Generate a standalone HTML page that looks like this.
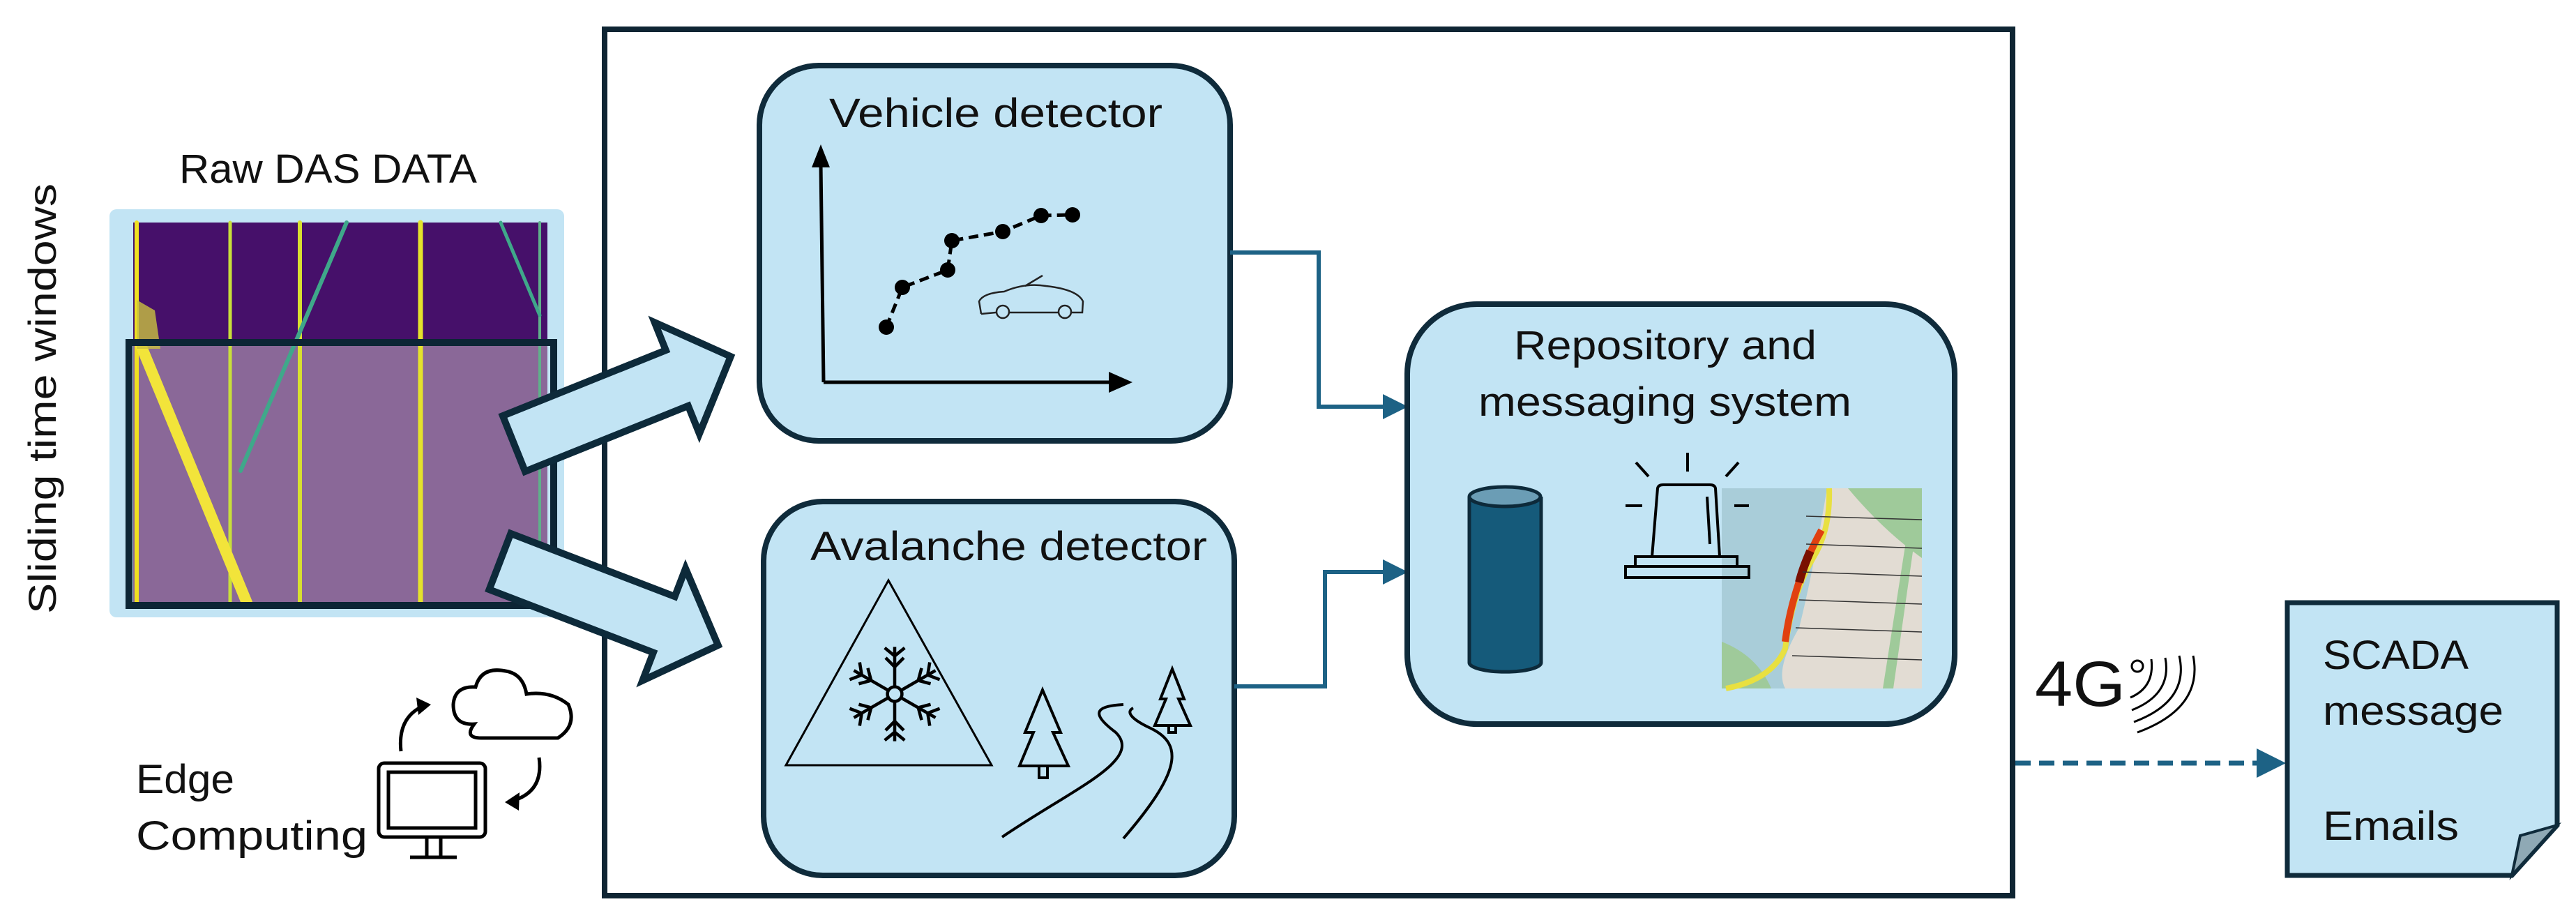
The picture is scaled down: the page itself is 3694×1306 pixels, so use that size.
<!DOCTYPE html>
<html><head><meta charset="utf-8"><style>
html,body{margin:0;padding:0;background:#fff;}
svg{display:block;}
text{font-family:"Liberation Sans Narrow","Liberation Sans",sans-serif;fill:#111;}
</style></head><body>
<svg width="3694" height="1306" viewBox="0 0 3694 1306" xmlns="http://www.w3.org/2000/svg">
<defs>
<marker id="ah" markerWidth="6" markerHeight="6" refX="2" refY="3" orient="auto" markerUnits="strokeWidth"><path d="M0,0 L6,3 L0,6 z" fill="#1d6285"/></marker>
</defs>

<!-- Sliding time windows -->
<text transform="translate(80,880) rotate(-90)" font-size="56" textLength="617" lengthAdjust="spacingAndGlyphs" style="font-family:'Liberation Sans',sans-serif">Sliding time windows</text>
<text x="257" y="262" font-size="58" textLength="427" lengthAdjust="spacingAndGlyphs">Raw DAS DATA</text>

<!-- DAS image -->
<rect x="157" y="300" width="652" height="585" rx="10" fill="#c2e4f4"/>
<rect x="191" y="319" width="594" height="545" fill="#46106a"/>
<rect x="191" y="490" width="594" height="374" fill="#8a6898"/>
<g stroke-linecap="round">
<line x1="196" y1="319" x2="196" y2="864" stroke="#f0e020" stroke-width="6"/>
<line x1="330" y1="319" x2="330" y2="864" stroke="#c8df3a" stroke-width="5"/>
<line x1="430" y1="319" x2="430" y2="864" stroke="#d8e030" stroke-width="6"/>
<line x1="603" y1="319" x2="603" y2="864" stroke="#e4e22c" stroke-width="7"/>
<line x1="774" y1="319" x2="774" y2="864" stroke="#5fb08a" stroke-width="4"/>
<line x1="497" y1="319" x2="345" y2="675" stroke="#3fa88a" stroke-width="6"/>
<line x1="718" y1="319" x2="774" y2="452" stroke="#3fa88a" stroke-width="5"/>
<line x1="202" y1="495" x2="354" y2="864" stroke="#f2e43a" stroke-width="16"/>
<path d="M196,430 L222,445 L230,500 L196,500z" fill="#c9c040" opacity="0.8"/>
</g>
<rect x="185" y="491" width="609" height="377" fill="none" stroke="#0c2535" stroke-width="10"/>

<!-- outer box -->
<rect x="867" y="42" width="2019" height="1242" fill="none" stroke="#0f2533" stroke-width="8"/>

<!-- block arrows -->
<g transform="translate(737,636) rotate(-21.9)"><polygon points="0,-43 252,-43 252,-86 335,0 252,86 252,43 0,43" fill="#c2e4f4" stroke="#0d2a3a" stroke-width="10"/></g>
<g transform="translate(717,805) rotate(21)"><polygon points="0,-43 252,-43 252,-86 335,0 252,86 252,43 0,43" fill="#c2e4f4" stroke="#0d2a3a" stroke-width="10"/></g>

<!-- Vehicle detector -->
<rect x="1089" y="94" width="675" height="538" rx="85" fill="#c2e4f4" stroke="#0f2b3b" stroke-width="8"/>
<text x="1189" y="182" font-size="58" textLength="478" lengthAdjust="spacingAndGlyphs">Vehicle detector</text>
<path d="M1181,548 L1177,235" stroke="#000" stroke-width="5" fill="none"/>
<path d="M1164,240 L1177,207 L1190,240z" fill="#000"/>
<path d="M1181,548 L1595,548" stroke="#000" stroke-width="5" fill="none"/>
<path d="M1590,533 L1624,548 L1590,563z" fill="#000"/>
<polyline points="1271,469 1294,412 1359,387 1365,345 1438,332 1493,309 1538,308" fill="none" stroke="#000" stroke-width="5" stroke-dasharray="14,8"/>
<g fill="#000"><circle cx="1271" cy="469" r="11"/><circle cx="1294" cy="412" r="11"/><circle cx="1359" cy="387" r="11"/><circle cx="1365" cy="345" r="11"/><circle cx="1438" cy="332" r="11"/><circle cx="1493" cy="309" r="11"/><circle cx="1538" cy="308" r="11"/></g>
<g fill="none" stroke="#222" stroke-width="2.5">
<path d="M1407,450 L1404,432 Q1410,420 1440,418 Q1470,405 1500,410 Q1545,415 1553,432 L1552,448 L1537,448 M1517,448 L1448,448 M1428,448 L1407,450"/>
<circle cx="1438" cy="447" r="9"/><circle cx="1527" cy="447" r="9"/>
<path d="M1470,410 L1495,395"/>
</g>

<!-- Avalanche detector -->
<rect x="1095" y="719" width="675" height="536" rx="85" fill="#c2e4f4" stroke="#0f2b3b" stroke-width="8"/>
<text x="1162" y="803" font-size="58" textLength="569" lengthAdjust="spacingAndGlyphs">Avalanche detector</text>
<polygon points="1274,832 1127,1097 1422,1097" fill="none" stroke="#000" stroke-width="3"/>
<g transform="translate(1283,995) scale(1.3)" stroke="#000" stroke-width="3.5" fill="none">
<circle r="8"/>
<g id="arm"><line x1="0" y1="-9" x2="0" y2="-52"/><polyline points="-10,-40 0,-30 10,-40"/><polyline points="-11,-51 0,-42 11,-51"/></g>
<use href="#arm" transform="rotate(60)"/><use href="#arm" transform="rotate(120)"/><use href="#arm" transform="rotate(180)"/><use href="#arm" transform="rotate(240)"/><use href="#arm" transform="rotate(300)"/>
</g>
<g fill="none" stroke="#000" stroke-width="4">
<path d="M1495,989 L1470,1050 L1482,1050 L1462,1098 L1532,1098 L1510,1050 L1521,1050 Z M1490,1098 V1115 H1502 V1098"/>
<path d="M1681,959 L1664,1002 L1672,1002 L1656,1040 L1707,1040 L1690,1002 L1698,1002 Z M1676,1040 V1050 H1686 V1040"/>
<path d="M1437,1200 C1540,1130 1640,1090 1600,1050 C1560,1020 1575,1012 1611,1010"/>
<path d="M1611,1202 C1690,1110 1700,1068 1650,1044 C1620,1030 1615,1020 1625,1015"/>
</g>

<!-- Edge computing -->
<text x="195" y="1137" font-size="58" textLength="141" lengthAdjust="spacingAndGlyphs">Edge</text>
<text x="195" y="1218" font-size="58" textLength="332" lengthAdjust="spacingAndGlyphs">Computing</text>
<g fill="none" stroke="#000" stroke-width="5">
<rect x="543" y="1094" width="153" height="106" rx="8"/>
<rect x="557" y="1107" width="125" height="80"/>
<path d="M612,1200 V1228 M632,1200 V1228 M588,1229 H655"/>
<path d="M680,1038 Q650,1040 650,1010 Q652,983 682,985 Q690,955 725,962 Q750,966 755,995 Q790,990 815,1010 Q828,1040 800,1058 L690,1058 Q665,1058 680,1038 Z"/>
<path d="M575,1077 Q570,1030 605,1013"/>
<path d="M773,1086 Q780,1135 735,1148"/>
</g>
<path d="M597,1000 L618,1010 L600,1025z" fill="#000"/>
<path d="M745,1136 L724,1150 L744,1162z" fill="#000"/>

<!-- connectors -->
<path d="M1764,362 H1891 V583 H1995" fill="none" stroke="#1d6285" stroke-width="6" marker-end="url(#ah)"/>
<path d="M1770,984 H1900 V820 H1995" fill="none" stroke="#1d6285" stroke-width="6" marker-end="url(#ah)"/>

<!-- Repository -->
<rect x="2018" y="436" width="785" height="602" rx="100" fill="#c2e4f4" stroke="#0f2b3b" stroke-width="8"/>
<text x="2171" y="515" font-size="58" textLength="434" lengthAdjust="spacingAndGlyphs">Repository and</text>
<text x="2120" y="596" font-size="58" textLength="535" lengthAdjust="spacingAndGlyphs">messaging system</text>
<path d="M2107,712 V950 A51,13 0 0 0 2210,950 V712" fill="#155a7a" stroke="#0d2a3a" stroke-width="5"/>
<ellipse cx="2158" cy="712" rx="51" ry="14" fill="#6b9db5" stroke="#0d2a3a" stroke-width="5"/>
<!-- map -->
<rect x="2469" y="700" width="287" height="287" fill="#a9cdd9"/>
<path d="M2620,700 H2756 V987 H2560 Q2545,960 2580,900 Q2600,820 2620,700z" fill="#e2dcd3"/>
<path d="M2650,700 H2756 V800 Q2700,760 2650,700z" fill="#9fca9a"/>
<path d="M2469,920 Q2520,940 2540,987 H2469z" fill="#9fca9a"/>
<path d="M2700,987 L2745,700 L2756,700 L2715,987z" fill="#9fca9a"/>
<path d="M2623,700 Q2625,760 2600,800 Q2570,850 2560,930 Q2540,975 2475,987" fill="none" stroke="#e8e040" stroke-width="8"/>
<path d="M2612,760 Q2590,800 2578,840 Q2565,880 2560,920" fill="none" stroke="#e04010" stroke-width="10"/>
<path d="M2596,790 Q2585,815 2580,835" fill="none" stroke="#7a1000" stroke-width="12"/>
<g stroke="#333" stroke-width="1.5"><line x1="2590" y1="740" x2="2756" y2="745"/><line x1="2590" y1="780" x2="2756" y2="786"/><line x1="2585" y1="820" x2="2756" y2="826"/><line x1="2580" y1="860" x2="2756" y2="866"/><line x1="2575" y1="900" x2="2756" y2="906"/><line x1="2570" y1="940" x2="2756" y2="946"/></g>
<!-- siren -->
<g fill="none" stroke="#000" stroke-width="4">
<path d="M2369,798 L2377,700 Q2378,695 2385,695 L2452,695 Q2459,695 2460,700 L2466,798"/>
<path d="M2448,712 L2452,780"/>
<rect x="2345" y="798" width="146" height="14"/>
<rect x="2331" y="812" width="177" height="16"/>
<line x1="2420" y1="649" x2="2420" y2="676"/>
<line x1="2346" y1="663" x2="2364" y2="683"/>
<line x1="2493" y1="663" x2="2475" y2="683"/>
<line x1="2331" y1="725" x2="2355" y2="725"/>
<line x1="2487" y1="725" x2="2508" y2="725"/>
</g>

<!-- 4G -->
<text x="2918" y="1012" font-size="92" textLength="130" lengthAdjust="spacingAndGlyphs" style="font-family:'Liberation Sans',sans-serif">4G</text>
<g fill="none" stroke="#000" stroke-width="3">
<circle cx="3065" cy="955" r="8"/>
<path d="M3085,945 Q3090,985 3055,1000"/>
<path d="M3105,943 Q3115,995 3057,1018"/>
<path d="M3125,940 Q3140,1005 3060,1035"/>
<path d="M3145,940 Q3160,1015 3065,1050"/>
</g>

<!-- dashed arrow -->
<path d="M2890,1094 H3250" fill="none" stroke="#1d6285" stroke-width="7" stroke-dasharray="22,12" marker-end="url(#ah)"/>

<!-- SCADA doc -->
<path d="M3280,864 H3667 V1183 L3602,1255 H3280 Z" fill="#c2e4f4" stroke="#0f2b3b" stroke-width="7"/>
<path d="M3667,1183 L3614,1198 L3602,1255 Z" fill="#8fa9b5" stroke="#0f2b3b" stroke-width="4"/>
<text x="3331" y="959" font-size="58" textLength="209" lengthAdjust="spacingAndGlyphs">SCADA</text>
<text x="3331" y="1039" font-size="58" textLength="259" lengthAdjust="spacingAndGlyphs">message</text>
<text x="3331" y="1204" font-size="58" textLength="195" lengthAdjust="spacingAndGlyphs">Emails</text>
</svg>
</body></html>
